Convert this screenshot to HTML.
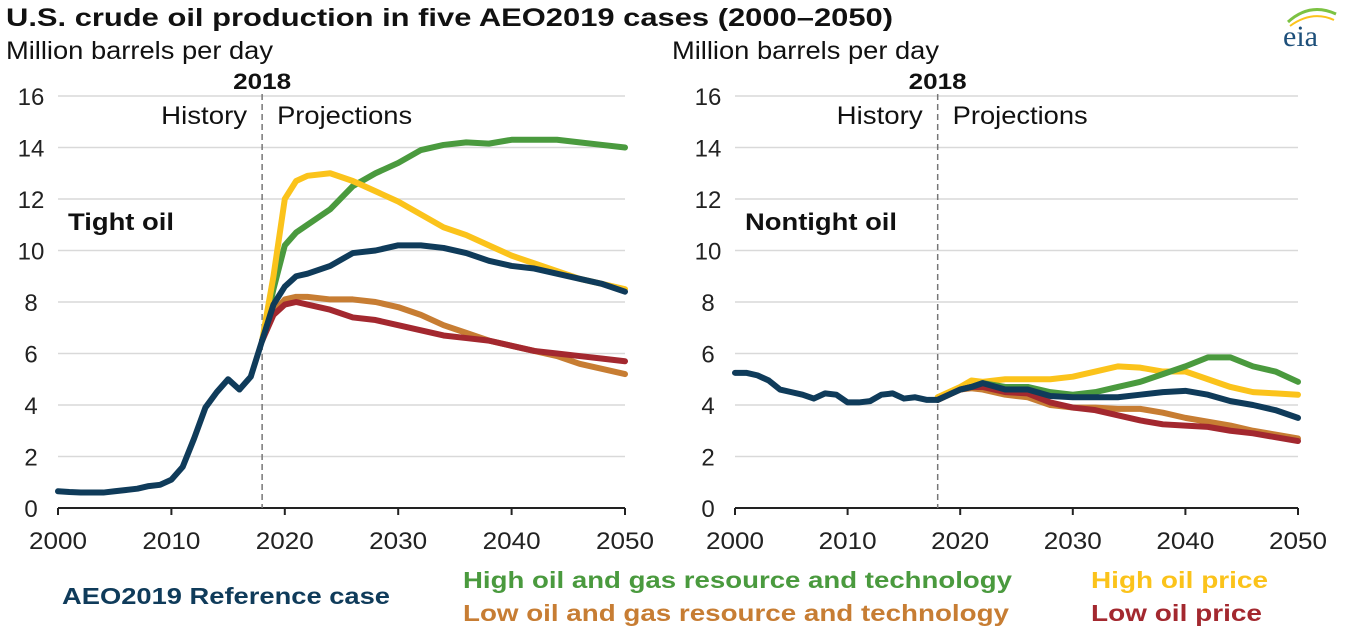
<!DOCTYPE html>
<html><head><meta charset="utf-8"><style>
body{margin:0;background:#fff;width:1346px;height:632px;overflow:hidden;font-family:"Liberation Sans",sans-serif}
</style></head><body>
<svg id="c" width="1346" height="632" xmlns="http://www.w3.org/2000/svg" font-family="Liberation Sans, sans-serif">
<text x="6" y="26" font-size="25" font-weight="bold" fill="#111" textLength="887" lengthAdjust="spacingAndGlyphs">U.S. crude oil production in five AEO2019 cases (2000–2050)</text>
<g><text x="1283" y="46" font-size="30" font-family="Liberation Serif, serif" fill="#1d4f7a">eia</text><path d="M1288 22 Q1310 2 1336 14" stroke="#7cc242" stroke-width="3" fill="none"/><path d="M1290 26 Q1312 10 1334 20" stroke="#fbc31b" stroke-width="2" fill="none"/></g>
<g id="legend" font-size="23" font-weight="bold">
<text x="62" y="604" fill="#0f3b5a" textLength="328" lengthAdjust="spacingAndGlyphs">AEO2019 Reference case</text>
<text x="463" y="588" fill="#4a9a3e" textLength="549" lengthAdjust="spacingAndGlyphs">High oil and gas resource and technology</text>
<text x="463" y="621" fill="#c77d33" textLength="546" lengthAdjust="spacingAndGlyphs">Low oil and gas resource and technology</text>
<text x="1091" y="588" fill="#fbc31b" textLength="177" lengthAdjust="spacingAndGlyphs">High oil price</text>
<text x="1091" y="621" fill="#a3282f" textLength="171" lengthAdjust="spacingAndGlyphs">Low oil price</text>
</g>
</svg>
<script>
const yTicks=[0,2,4,6,8,10,12,14,16];
const xTicks=[2000,2010,2020,2030,2040,2050];
const histYears=[2000,2001,2002,2003,2004,2005,2006,2007,2008,2009,2010,2011,2012,2013,2014,2015,2016,2017,2018];
const projYears=[2018,2019,2020,2021,2022,2024,2026,2028,2030,2032,2034,2036,2038,2040,2042,2044,2046,2048,2050];
const tightHist=[.65,.62,.6,.6,.6,.65,.7,.75,.85,.9,1.1,1.6,2.7,3.9,4.5,5.0,4.6,5.1,6.5];
const tightHighRes=[6.5,8.5,10.2,10.7,11.0,11.6,12.5,13.0,13.4,13.9,14.1,14.2,14.15,14.3,14.3,14.3,14.2,14.1,14.0];
const tightHighPrice=[6.5,9.0,12.0,12.7,12.9,13.0,12.7,12.3,11.9,11.4,10.9,10.6,10.2,9.8,9.5,9.2,8.9,8.7,8.5];
const tightLowRes=[6.5,7.6,8.1,8.2,8.2,8.1,8.1,8.0,7.8,7.5,7.1,6.8,6.5,6.3,6.1,5.9,5.6,5.4,5.2];
const tightLowPrice=[6.5,7.5,7.9,8.0,7.9,7.7,7.4,7.3,7.1,6.9,6.7,6.6,6.5,6.3,6.1,6.0,5.9,5.8,5.7];
const tightRef=[6.5,7.9,8.6,9.0,9.1,9.4,9.9,10.0,10.2,10.2,10.1,9.9,9.6,9.4,9.3,9.1,8.9,8.7,8.4];
const ntHist=[5.25,5.25,5.15,4.95,4.6,4.5,4.4,4.25,4.45,4.4,4.1,4.1,4.15,4.4,4.45,4.25,4.3,4.2,4.2];
const ntHighRes=[4.2,4.4,4.6,4.7,4.85,4.7,4.7,4.5,4.4,4.5,4.7,4.9,5.2,5.5,5.85,5.85,5.5,5.3,4.9];
const ntHighPrice=[4.3,4.5,4.7,4.95,4.9,5.0,5.0,5.0,5.1,5.3,5.5,5.45,5.3,5.3,5.0,4.7,4.5,4.45,4.4];
const ntLowRes=[4.2,4.4,4.6,4.65,4.6,4.4,4.3,4.0,3.9,3.9,3.85,3.85,3.7,3.5,3.35,3.2,3.0,2.85,2.7];
const ntLowPrice=[4.2,4.4,4.6,4.7,4.7,4.5,4.45,4.1,3.9,3.8,3.6,3.4,3.25,3.2,3.15,3.0,2.9,2.75,2.6];
const ntRef=[4.2,4.4,4.6,4.7,4.85,4.6,4.6,4.35,4.3,4.3,4.3,4.4,4.5,4.55,4.4,4.15,4.0,3.8,3.5];
const C={ref:'#0f3b5a',hr:'#4a9a3e',hp:'#fbc31b',lr:'#c77d33',lp:'#a3282f'};
const svg=document.getElementById('c');const NS='http://www.w3.org/2000/svg';
function mk(t,a,p){const e=document.createElementNS(NS,t);for(const k in a)e.setAttribute(k,a[k]);(p||svg).appendChild(e);return e;}
function panel(x0,x1,name,label,labelW,unitX,hist,series){
 const y0=508,y1=96;
 const X=v=>x0+(v-2000)/50*(x1-x0), Y=v=>y0-v/16*(y0-y1);
 const g=mk('g',{});
 
 
 yTicks.forEach(t=>{
  if(t>0){const l=mk('line',{x1:x0,x2:x1,y1:Y(t),y2:Y(t),stroke:'#d9d9d9','stroke-width':1.5},g);
  
  }
  const tx=mk('text',{x:x0-27,y:Y(t)+9,'font-size':24,'text-anchor':'middle',fill:'#222'},g);tx.textContent=t;
  
  
 });
 const ax=mk('line',{x1:x0,x2:x1,y1:y0,y2:y0,stroke:'#222','stroke-width':2},g);
 
 
 xTicks.forEach(t=>{
  mk('line',{x1:X(t),x2:X(t),y1:y0,y2:y0+7,stroke:'#222','stroke-width':2},g);
  const tx=mk('text',{x:X(t),y:y0+41,'font-size':24,'text-anchor':'middle',fill:'#222',textLength:58,lengthAdjust:'spacingAndGlyphs'},g);tx.textContent=t;
  
  
 });
 const dl=mk('line',{x1:X(2018),x2:X(2018),y1:94,y2:y0,stroke:'#777','stroke-width':1.5,'stroke-dasharray':'6,4'},g);
 
 
 const t18=mk('text',{x:X(2018),y:89,'font-size':22,'font-weight':'bold','text-anchor':'middle',fill:'#111',textLength:58,lengthAdjust:'spacingAndGlyphs'},g);t18.textContent='2018';
 const th=mk('text',{x:X(2018)-101,y:124,'font-size':25,fill:'#111',textLength:86,lengthAdjust:'spacingAndGlyphs'},g);th.textContent='History';
 
 
 const tp=mk('text',{x:X(2018)+15,y:124,'font-size':25,fill:'#111',textLength:135,lengthAdjust:'spacingAndGlyphs'},g);tp.textContent='Projections';
 
 
 const ut=mk('text',{x:unitX,y:59,'font-size':25,fill:'#111',textLength:267,lengthAdjust:'spacingAndGlyphs'},g);ut.textContent='Million barrels per day';
 
 
 const pl=mk('text',{x:x0+10,y:230,'font-size':24,'font-weight':'bold',fill:'#111',textLength:labelW,lengthAdjust:'spacingAndGlyphs'},g);pl.textContent=label;
 
 
 const line=(xs,vs,col)=>mk('polyline',{points:xs.map((x,i)=>X(x)+','+Y(vs[i])).join(' '),fill:'none',stroke:col,'stroke-width':6,'stroke-linejoin':'round','stroke-linecap':'round'},g);
 series.forEach(s=>{const p=line(projYears,s[0],s[1]);
  
  });
 const h=line(histYears,hist,C.ref);
 
 
}
panel(58,625,'tight-oil-panel','Tight oil',106,6,tightHist,[[tightHighRes,C.hr],[tightHighPrice,C.hp],[tightLowRes,C.lr],[tightLowPrice,C.lp],[tightRef,C.ref]]);
panel(735,1298,'nontight-oil-panel','Nontight oil',152,672,ntHist,[[ntHighPrice,C.hp],[ntHighRes,C.hr],[ntLowRes,C.lr],[ntLowPrice,C.lp],[ntRef,C.ref]]);
</script>
</body></html>
